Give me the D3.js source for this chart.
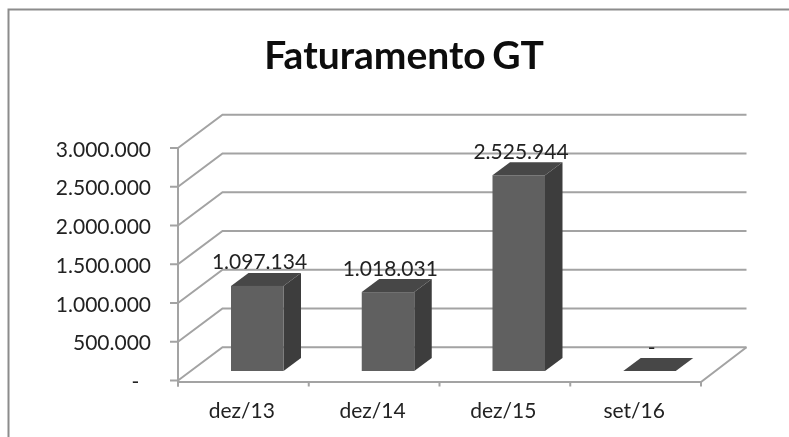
<!DOCTYPE html>
<html><head><meta charset="utf-8">
<script src="https://cdn.jsdelivr.net/npm/d3@7"></script>
<style>html,body{margin:0;padding:0;background:#fff}svg{display:block}text{font-family:Lato,"Noto Sans",sans-serif}</style>
</head><body><svg id="c" width="789" height="437"></svg>
<script>
const categories=["dez/13","dez/14","dez/15","set/16"];
const values=[1097134,1018031,2525944,0];
const valueLabels=["1.097.134","1.018.031","2.525.944","-"];
const ticks=[0,500000,1000000,1500000,2000000,2500000,3000000];
const tickLabels=["-","500.000","1.000.000","1.500.000","2.000.000","2.500.000","3.000.000"];
const title="Faturamento GT";

const svg=d3.select("#c");
const defs=svg.append("defs");
defs.append("filter").attr("id","soft").attr("x",0).attr("y",0)
  .attr("filterUnits","userSpaceOnUse").attr("width",789).attr("height",437)
  .append("feGaussianBlur").attr("stdDeviation",0.5);
const root=svg.append("g").attr("filter","url(#soft)");

const dx=44.5,dy=-33.3;
const bdx=17.5,bdy=-13;
const x=d3.scaleBand().domain(categories).range([178,701]);
const y=d3.scaleLinear().domain([0,3000000]).range([380.5,148]);
const barOffset=9.5;
const grid="#a3a3a3";
const sw=2;

root.append("path").attr("d","M8.5,437V9.5H789").attr("fill","none").attr("stroke","#8c8c8c").attr("stroke-width",2);

root.append("text").attr("x",404).attr("y",69).attr("text-anchor","middle")
  .attr("font-size",39).attr("font-weight",700).attr("word-spacing",-3).attr("fill","#0a0a0a").text(title);

const [x0,x1]=x.range();
root.selectAll(".g").data(ticks).join("path").attr("fill","none").attr("stroke",grid).attr("stroke-width",sw)
  .attr("d",t=>`M${x0},${y(t)}L${x0+dx},${y(t)+dy}H${x1+dx+1}`);
root.append("path").attr("fill","none").attr("stroke",grid).attr("stroke-width",sw)
  .attr("d",`M${x1+dx+1},${y(0)+dy}L${x1},${y(0)+1.5}H${x0}`);
root.append("path").attr("fill","none").attr("stroke",grid).attr("stroke-width",sw)
  .attr("d",`M${x0},${y(3000000)}V${y(0)+6}`);

root.selectAll(".ty").data(ticks).join("line").attr("stroke",grid).attr("stroke-width",sw)
  .attr("x1",170).attr("x2",178).attr("y1",t=>y(t)).attr("y2",t=>y(t));
const xTicks=categories.map(c=>x(c)).concat(x1);
root.selectAll(".tx").data(xTicks).join("line").attr("stroke",grid).attr("stroke-width",sw)
  .attr("x1",d=>d).attr("x2",d=>d).attr("y1",y(0)+1).attr("y2",y(0)+6);

root.selectAll(".yl").data(ticks).join("text")
  .attr("x",t=>t===0?135.5:151).attr("text-anchor",t=>t===0?"middle":"end")
  .attr("y",t=>y(t)+8.5).attr("font-size",21).attr("fill","#222").text((t,i)=>tickLabels[i]);
root.selectAll(".xl").data(categories).join("text").attr("x",c=>x(c)+x.bandwidth()/2-1.5).attr("y",418)
  .attr("text-anchor","middle").attr("font-size",21).attr("fill","#222").text(c=>c);

const bw=52.5;
root.selectAll(".bar").data(categories).join("g").each(function(c,i){
  const g=d3.select(this),l=x(c)+53,r=l+bw,b=y(0)-barOffset,t=y(values[i])-barOffset;
  g.append("path").attr("fill","#3e3e3e").attr("d",`M${r},${b}L${r+bdx},${b+bdy}V${t+bdy}L${r},${t}Z`);
  g.append("path").attr("fill","#474747").attr("d",`M${l},${t}L${l+bdx},${t+bdy}H${r+bdx}L${r},${t}Z`);
  g.append("rect").attr("x",l).attr("y",t).attr("width",bw).attr("height",b-t).attr("fill","#606060");
});
root.selectAll(".vl").data(categories).join("text").attr("text-anchor","middle")
  .attr("x",c=>x(c)+81.5)
  .attr("y",(c,i)=>y(values[i])-barOffset-16.5)
  .attr("font-size",21).attr("fill","#222").text((c,i)=>valueLabels[i]);
</script></body></html>
